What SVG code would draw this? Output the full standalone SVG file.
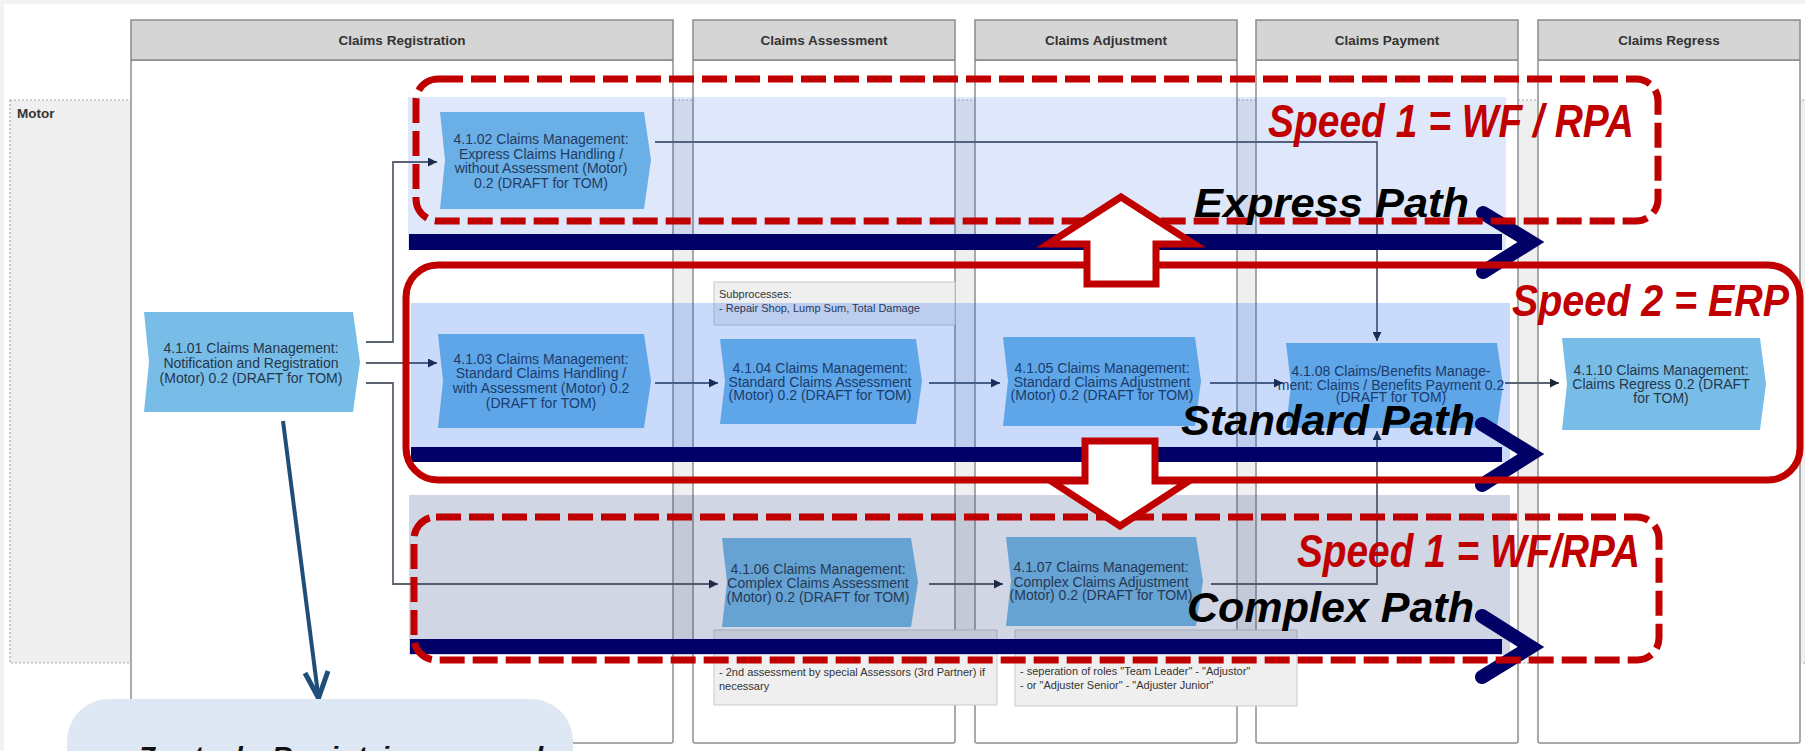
<svg xmlns="http://www.w3.org/2000/svg" width="1805" height="751" viewBox="0 0 1805 751">
<defs>
<marker id="ah" viewBox="0 0 10 10" refX="10" refY="5" markerWidth="10" markerHeight="9" markerUnits="userSpaceOnUse" orient="auto"><path d="M0,0 L10,5 L0,10 z" fill="#1c2533"/></marker>
</defs>
<style>
.hdr{fill:#d5d5d5;stroke:#8a8a8a;stroke-width:1.5}
.col{fill:#fff;stroke:#8f8f8f;stroke-width:1.5}
.ht{font-family:"Liberation Sans",Arial,sans-serif;font-weight:bold;font-size:13.5px;fill:#333;text-anchor:middle}
.nd{fill:#78bde8}
.nt{font-family:"Liberation Sans",Arial,sans-serif;font-size:14px;fill:#25364a;text-anchor:middle}
.con{fill:none;stroke:#5b6270;stroke-width:1.8}
.note{fill:#efefef;stroke:#c9c9c9;stroke-width:1}
.notet{font-family:"Liberation Sans",Arial,sans-serif;font-size:11px;fill:#333}
.navy{fill:#000066}
.chev{fill:none;stroke:#000066;stroke-width:14;stroke-linecap:round;stroke-linejoin:miter}
.rd{fill:none;stroke:#c00000;stroke-width:7;stroke-dasharray:25 8}
.rs{fill:none;stroke:#c00000;stroke-width:7}
.blk{fill:#fff;stroke:#c00000;stroke-width:7;stroke-linejoin:miter}
.sp{font-family:"Liberation Sans",Arial,sans-serif;font-weight:bold;font-style:italic;fill:#c00000}
.pt{font-family:"Liberation Sans",Arial,sans-serif;font-weight:bold;font-style:italic;fill:#000}
</style>
<rect x="0" y="0" width="1805" height="751" fill="#f2f2f2"/>
<rect x="4" y="4" width="1801" height="747" fill="#fff"/>

<g id="lane-motor">
<rect x="10" y="100" width="1800" height="563" fill="#efefef" stroke="#a9a9a9" stroke-width="1.2" stroke-dasharray="2 2"/>
<text x="17" y="118" font-family="Liberation Sans, Arial, sans-serif" font-weight="bold" font-size="13.5" fill="#333">Motor</text>
</g>

<g id="columns">
<rect class="col" x="131" y="60" width="542" height="683" rx="2"/>
<rect class="hdr" x="131" y="20" width="542" height="40"/>
<text class="ht" x="402" y="45">Claims Registration</text>
<rect class="col" x="693" y="60" width="262" height="683" rx="2"/>
<rect class="hdr" x="693" y="20" width="262" height="40"/>
<text class="ht" x="824" y="45">Claims Assessment</text>
<rect class="col" x="975" y="60" width="262" height="683" rx="2"/>
<rect class="hdr" x="975" y="20" width="262" height="40"/>
<text class="ht" x="1106" y="45">Claims Adjustment</text>
<rect class="col" x="1256" y="60" width="262" height="683" rx="2"/>
<rect class="hdr" x="1256" y="20" width="262" height="40"/>
<text class="ht" x="1387" y="45">Claims Payment</text>
<rect class="col" x="1538" y="60" width="262" height="683" rx="2"/>
<rect class="hdr" x="1538" y="20" width="262" height="40"/>
<text class="ht" x="1669" y="45">Claims Regress</text>
</g>

<g id="notes">
<g id="note-subprocesses">
<rect class="note" x="714" y="282" width="241" height="43"/>
<text class="notet" x="719" y="298">Subprocesses:</text>
<text class="notet" x="719" y="312">- Repair Shop, Lump Sum, Total Damage</text>
</g>
<g id="note-assessment">
<rect class="note" x="714" y="630" width="283" height="75"/>
<text class="notet" x="719" y="676">- 2nd assessment by special Assessors (3rd Partner) if</text>
<text class="notet" x="719" y="690">necessary</text>
</g>
<g id="note-adjustment">
<rect class="note" x="1015" y="630" width="282" height="76"/>
<text class="notet" x="1020" y="675">- seperation of roles "Team Leader" - "Adjustor"</text>
<text class="notet" x="1020" y="689">- or "Adjuster Senior" - "Adjuster Junior"</text>
</g>
</g>

<g id="n-4101">
<path class="nd" d="M144,312 H353 L360,362 L353,412 H144 L149,362 Z"/>
<text class="nt" x="251" y="353">4.1.01 Claims Management:<tspan x="251" y="368">Notification and Registration</tspan><tspan x="251" y="383">(Motor) 0.2 (DRAFT for TOM)</tspan></text>
</g>
<g id="n-4102">
<path class="nd" d="M440,112 H644 L651,160 L644,209 H440 L445,160 Z"/>
<text class="nt" x="541" y="144">4.1.02 Claims Management:<tspan x="541" y="159">Express Claims Handling /</tspan><tspan x="541" y="173">without Assessment (Motor)</tspan><tspan x="541" y="188">0.2 (DRAFT for TOM)</tspan></text>
</g>
<g id="n-4103">
<path class="nd" d="M438,334 H644 L651,381 L644,428 H438 L443,381 Z"/>
<text class="nt" x="541" y="364">4.1.03 Claims Management:<tspan x="541" y="378">Standard Claims Handling /</tspan><tspan x="541" y="393">with Assessment (Motor) 0.2</tspan><tspan x="541" y="408">(DRAFT for TOM)</tspan></text>
</g>
<g id="n-4104">
<path class="nd" d="M720,339 H916 L922,381 L916,424 H720 L725,381 Z"/>
<text class="nt" x="820" y="373">4.1.04 Claims Management:<tspan x="820" y="387">Standard Claims Assessment</tspan><tspan x="820" y="400">(Motor) 0.2 (DRAFT for TOM)</tspan></text>
</g>
<g id="n-4105">
<path class="nd" d="M1003,337 H1195 L1201,381 L1195,426 H1003 L1008,381 Z"/>
<text class="nt" x="1102" y="373">4.1.05 Claims Management:<tspan x="1102" y="387">Standard Claims Adjustment</tspan><tspan x="1102" y="400">(Motor) 0.2 (DRAFT for TOM)</tspan></text>
</g>
<g id="n-4108">
<path class="nd" d="M1286,343 H1497 L1503,385 L1497,428 H1286 L1291,385 Z"/>
<text class="nt" x="1391" y="376" font-size="12.5" fill="#3a4a5e">4.1.08 Claims/Benefits Manage-<tspan x="1391" y="390">ment: Claims / Benefits Payment 0.2</tspan><tspan x="1391" y="402">(DRAFT for TOM)</tspan></text>
</g>
<g id="n-4110">
<path class="nd" d="M1562,338 H1760 L1766,384 L1760,430 H1562 L1567,384 Z"/>
<text class="nt" x="1661" y="375">4.1.10 Claims Management:<tspan x="1661" y="389">Claims Regress 0.2 (DRAFT</tspan><tspan x="1661" y="403">for TOM)</tspan></text>
</g>
<g id="n-4106">
<path class="nd" d="M722,538 H911 L918,582 L911,627 H722 L727,582 Z"/>
<text class="nt" x="818" y="574">4.1.06 Claims Management:<tspan x="818" y="588">Complex Claims Assessment</tspan><tspan x="818" y="602">(Motor) 0.2 (DRAFT for TOM)</tspan></text>
</g>
<g id="n-4107">
<path class="nd" d="M1006,537 H1196 L1203,581 L1196,626 H1006 L1011,581 Z"/>
<text class="nt" x="1101" y="572">4.1.07 Claims Management:<tspan x="1101" y="587">Complex Claims Adjustment</tspan><tspan x="1101" y="600">(Motor) 0.2 (DRAFT for TOM)</tspan></text>
</g>

<g id="connectors">
<path class="con" d="M366,342 H393 V162 H437" marker-end="url(#ah)"/>
<path class="con" d="M366,363 H437" marker-end="url(#ah)"/>
<path class="con" d="M366,383 H393 V584 H718" marker-end="url(#ah)"/>
<path class="con" d="M655,142 H1377 V341" marker-end="url(#ah)"/>
<path class="con" d="M655,383 H718" marker-end="url(#ah)"/>
<path class="con" d="M929,383 H1000" marker-end="url(#ah)"/>
<path class="con" d="M1210,383 H1283" marker-end="url(#ah)"/>
<path class="con" d="M1505,383 H1559" marker-end="url(#ah)"/>
<path class="con" d="M929,584 H1003" marker-end="url(#ah)"/>
<path class="con" d="M1211,584 H1377 V431" marker-end="url(#ah)"/>
</g>

<g id="bands">
<rect x="408" y="97" width="1098" height="153" fill="rgb(30,90,230)" fill-opacity="0.14"/>
<rect x="411" y="303" width="1099" height="159" fill="rgb(0,80,230)" fill-opacity="0.21"/>
<rect x="409" y="495" width="1101" height="160" fill="rgb(40,70,130)" fill-opacity="0.22"/>
</g>

<g id="path-arrows">
<rect class="navy" x="409" y="234" width="1093" height="16"/>
<polyline class="chev" points="1483,213 1531,242 1483,272"/>
<rect class="navy" x="411" y="447" width="1091" height="15"/>
<polyline class="chev" points="1482,424 1531,454 1482,485"/>
<rect class="navy" x="410" y="639" width="1092" height="15"/>
<polyline class="chev" points="1482,616 1531,647 1482,677"/>
</g>

<g id="speed-boxes">
<rect class="rd" x="416" y="79" width="1242" height="142" rx="22"/>
<rect class="rs" x="406" y="265" width="1394" height="215" rx="32"/>
<rect class="rd" x="414" y="517" width="1245" height="143" rx="22"/>
</g>

<g id="shift-arrows">
<polygon class="blk" points="1121,197 1194,244 1156,244 1156,284 1087,284 1087,244 1048,244"/>
<polygon class="blk" points="1085,441 1155,441 1155,481 1189,481 1120,526 1051,481 1085,481"/>
</g>

<g id="labels">
<text class="sp" x="1268" y="137" font-size="46" textLength="366" lengthAdjust="spacingAndGlyphs">Speed 1 = WF / RPA</text>
<text class="sp" x="1512" y="316" font-size="45" textLength="277" lengthAdjust="spacingAndGlyphs">Speed 2 = ERP</text>
<text class="sp" x="1297" y="567" font-size="46" textLength="343" lengthAdjust="spacingAndGlyphs">Speed 1 = WF/RPA</text>
<text class="pt" x="1194" y="217" font-size="41" textLength="275" lengthAdjust="spacingAndGlyphs">Express Path</text>
<text class="pt" x="1181" y="435" font-size="42" textLength="294" lengthAdjust="spacingAndGlyphs">Standard Path</text>
<text class="pt" x="1187" y="622" font-size="42" textLength="287" lengthAdjust="spacingAndGlyphs">Complex Path</text>
</g>

<g id="callout">
<line x1="283" y1="421" x2="318" y2="694" stroke="#1f4e79" stroke-width="4"/>
<polyline points="305,673 318.5,698 328,671" fill="none" stroke="#1f4e79" stroke-width="5" stroke-linejoin="miter"/>
<rect x="67" y="699" width="506" height="110" rx="42" fill="#dde8f4"/>
<text x="138" y="766" font-family="Liberation Sans, Arial, sans-serif" font-weight="bold" font-style="italic" font-size="28" fill="#111" textLength="405" lengthAdjust="spacing">Zentrale Registrierung und</text>
</g>
</svg>
